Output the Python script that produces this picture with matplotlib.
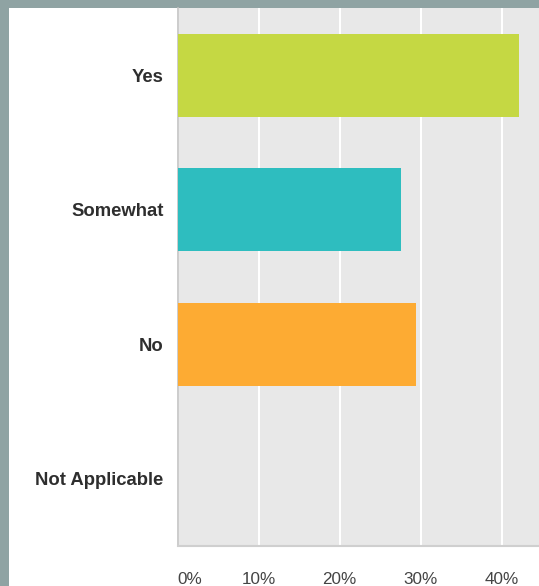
import matplotlib
matplotlib.use("Agg")
import matplotlib.pyplot as plt
from matplotlib.patches import Rectangle

categories = ["Yes", "Somewhat", "No", "Not Applicable"]
percent = [42.2, 27.6, 29.4, 0.0]
bar_colors = ["#c5d843", "#2ebdbf", "#fdab33", "#9e9e9e"]
ticks = [0, 10, 20, 30, 40]
tick_labels = ["0%", "10%", "20%", "30%", "40%"]

W, H = 539, 586
fig = plt.figure(figsize=(W / 100, H / 100), dpi=100)
fig.patch.set_facecolor("#8fa3a3")
fig.patches.append(Rectangle((9 / W, 0), 1, 1 - 8 / H, transform=fig.transFigure,
                             facecolor="white", edgecolor="none", zorder=-10))

left, right, top, bottom = 177.5, 539, 8, 546
ax = fig.add_axes([left / W, 1 - bottom / H, (right - left) / W, (bottom - top) / H])
ax.set_zorder(5)
ax.set_facecolor("#e8e8e8")

ypos = list(range(len(categories)))
ax.barh(ypos, percent, height=0.62, color=bar_colors, edgecolor="none", zorder=3)

ax.set_ylim(len(categories) - 0.5, -0.5)
ax.set_xlim(0, (right - left) / 8.1)
ax.set_yticks(ypos)
ax.set_yticklabels(categories, fontsize=13.3, fontweight="bold", color="#2e2e2e",
                   family="Liberation Sans")
ax.set_xticks(ticks)
ax.set_xticklabels(tick_labels, fontsize=12.3, color="#444444", family="Liberation Sans")
ax.get_xticklabels()[0].set_horizontalalignment("left")
ax.tick_params(axis="y", length=0, pad=10)
ax.tick_params(axis="x", length=0, pad=19)

ax.grid(axis="x", color="white", linewidth=1.5, zorder=1)
ax.grid(axis="y", visible=False)
ax.set_axisbelow(True)

for s in ["top", "right"]:
    ax.spines[s].set_visible(False)
ax.spines["left"].set_color("#c4c4c4")
ax.spines["left"].set_linewidth(1.2)
ax.spines["bottom"].set_color("#cfcfcf")
ax.spines["bottom"].set_linewidth(1.5)

fig.savefig("out.png", dpi=100, facecolor=fig.get_facecolor())
